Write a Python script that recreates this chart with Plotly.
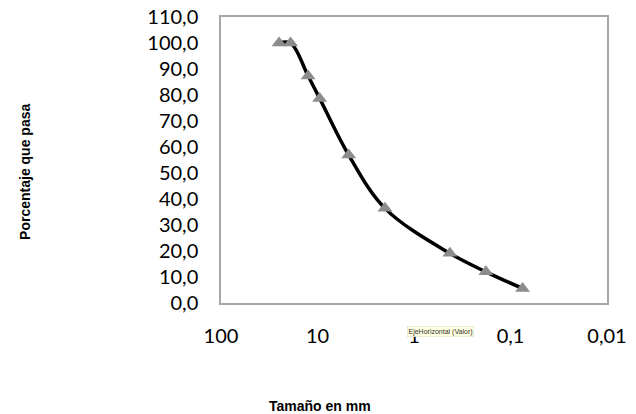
import plotly.graph_objects as go

tamano_mm = [25, 19, 12.5, 9.5, 4.75, 2.0, 0.425, 0.18, 0.075]
porcentaje_pasa = [100.0, 100.0, 87.3, 78.7, 56.9, 36.4, 19.1, 12.0, 5.6]

x_tickvals = [100, 10, 1, 0.1, 0.01]
x_ticktext = ["100", "10", "1", "0,1", "0,01"]
y_tickvals = list(range(0, 111, 10))

fig = go.Figure()
fig.add_trace(go.Scatter(
    x=tamano_mm, y=porcentaje_pasa,
    mode="lines+markers",
    line=dict(color="black", width=3.5, shape="spline", smoothing=1),
    marker=dict(symbol="triangle-up", size=13, color="#8c8c8c"),
    showlegend=False,
))

tick_font = dict(family="Lato, Open Sans, sans-serif", size=20, color="black")
fig.update_layout(
    width=636, height=414,
    margin=dict(l=221, r=29, t=17, b=111, autoexpand=False),
    plot_bgcolor="white", paper_bgcolor="white",
    separators=",.",
    xaxis=dict(
        type="log", range=[2, -2],
        tickvals=x_tickvals, ticktext=x_ticktext,
        showgrid=False, zeroline=False, automargin=False,
        showline=True, linecolor="#a6a6a6", linewidth=1.5, mirror=True,
        ticks="", tickfont=tick_font, ticklabelstandoff=14,
    ),
    yaxis=dict(
        range=[0, 110], tickvals=y_tickvals, tickformat=".1f",
        showgrid=False, zeroline=False, automargin=False,
        showline=True, linecolor="#a6a6a6", linewidth=1.5, mirror=True,
        ticks="", tickfont=tick_font, ticklabelstandoff=17,
    ),
    annotations=[
        dict(text="<b>Porcentaje que pasa</b>", xref="paper", yref="paper",
             x=-0.508, y=0.458, textangle=-90, showarrow=False,
             font=dict(family="Liberation Sans, Arial, sans-serif", size=14, color="black"),
             xanchor="center", yanchor="middle"),
        dict(text="<b>Tamaño en mm</b>", xref="paper", yref="paper",
             x=0.256, y=-0.36, showarrow=False,
             font=dict(family="Liberation Sans, Arial, sans-serif", size=14, color="black"),
             xanchor="center", yanchor="middle"),
        dict(text="EjeHorizontal (Valor)", xref="paper", yref="paper",
             x=0.568, y=-0.101, showarrow=False,
             font=dict(family="Liberation Sans, Arial, sans-serif", size=7, color="#333333"),
             bgcolor="#ffffe1", bordercolor="#d8d8c0", borderwidth=0.5, borderpad=1,
             xanchor="center", yanchor="middle"),
    ],
)

fig.write_html("out.html", config={"displayModeBar": False},
               post_script="document.body.style.margin='0';document.body.style.padding='0';")
